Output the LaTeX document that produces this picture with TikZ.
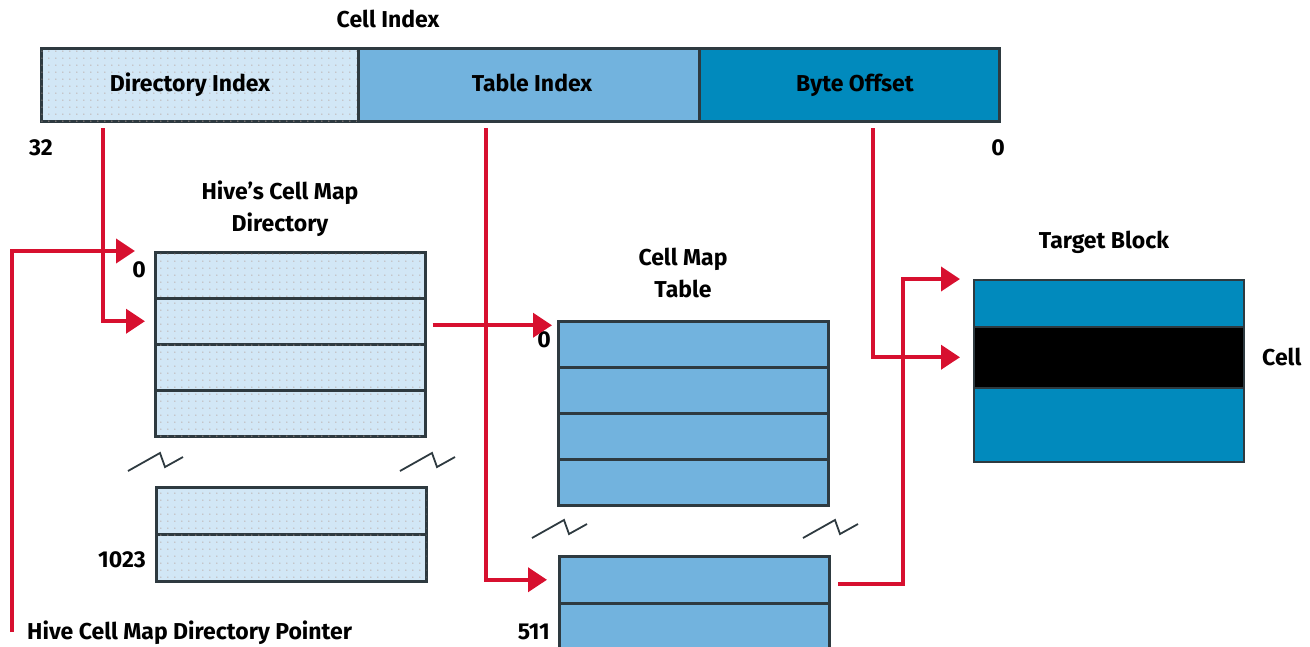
\documentclass[tikz,border=0pt]{standalone}
\usepackage{fontspec}
\setmainfont{Fira Sans}
\usetikzlibrary{arrows.meta,patterns.meta}
\definecolor{redc}{HTML}{D7102F}
\definecolor{lblue}{HTML}{D2E7F6}
\definecolor{mblue}{HTML}{72B3DE}
\definecolor{dblue}{HTML}{018ABD}
\definecolor{edge}{HTML}{2E3A40}
\definecolor{dotc}{HTML}{B8A49C}
\tikzdeclarepattern{name=sparsedots,type=uncolored,bottom left={(-1pt,-1pt)},top right={(6pt,6pt)},tile size={(7pt,7pt)},code={\fill (0,0) circle (0.75pt);}}
\tikzset{
  lbl/.style={font=\bfseries\fontsize{23}{32}\selectfont, inner sep=0pt, align=center},
  lbl1/.style={lbl, text height=16pt, text depth=5pt},
  boxrow/.style={draw=edge, line width=2.5pt, minimum width=270pt, inner sep=0pt, anchor=north west},
  dirrow/.style={boxrow, minimum height=46pt, fill=lblue, postaction={pattern=sparsedots, pattern color=dotc}},
  tabrow/.style={boxrow, minimum height=46pt, fill=mblue},
  blkrow/.style={draw=edge, line width=1.5pt, minimum width=270pt, inner sep=0pt, anchor=north west},
  barseg/.style={draw=edge, line width=2.5pt, minimum height=73pt, inner sep=0pt, anchor=north west},
  redarrow/.style={draw=redc, line width=4pt, -{Triangle[length=19pt,width=24pt]}},
  brk/.pic={\draw[edge, line width=1.8pt] (0,0) -- (32,-18) -- (37,-4) -- (55,-14);}
}
\begin{document}
\begin{tikzpicture}[x=1pt,y=-1pt]
\useasboundingbox (0,0) rectangle (1310,646);
\clip (0,0) rectangle (1310,646);
% top bar
\node[lbl1] (title) at (388,22) {Cell Index};
\node[barseg, minimum width=317pt, fill=lblue, postaction={pattern=sparsedots, pattern color=dotc}] (dirIdx) at (40,47) {};
\node[barseg, minimum width=341pt, fill=mblue] (tabIdx) at (357,47) {};
\node[barseg, minimum width=300pt, fill=dblue] (byteOff) at (698,47) {};
\node[lbl1] (tDir) at (190,86) {Directory Index};
\node[lbl1] (tTab) at (532,86) {Table Index};
\node[lbl1] (tByte) at (855,86) {Byte Offset};
\node[lbl1] (b32) at (41,150) {32};
\node[lbl1] (b0) at (998,150) {0};
% directory
\node[lbl] (dirTitle) at (280,209) {Hive’s Cell Map\\Directory};
\node[dirrow] (dir0) at (154,251) {};
\node[dirrow] (dir1) at (154,297) {};
\node[dirrow] (dir2) at (154,343) {};
\node[dirrow] (dir3) at (154,389) {};
\node[dirrow, minimum height=47pt] (dlo0) at (155,486) {};
\node[dirrow, minimum height=47pt] (dlo1) at (155,533) {};
\node[lbl1, anchor=east] (d0) at (146,272) {0};
\node[lbl1, anchor=east] (d1023) at (146,562) {1023};
\pic at (128,471) {brk};
\pic at (400,471) {brk};
% table
\node[lbl] (tabTitle) at (683,273) {Cell Map\\Table};
\node[tabrow] (tab0) at (557,320) {};
\node[tabrow] (tab1) at (557,366) {};
\node[tabrow] (tab2) at (557,412) {};
\node[tabrow] (tab3) at (557,458) {};
\node[tabrow, minimum height=47pt] (tlo0) at (558,555) {};
\node[tabrow, minimum height=60pt] (tlo1) at (558,602) {};
\node[lbl1, anchor=east] (t0) at (551,342) {0};
\node[lbl1, anchor=east] (t511) at (550,634) {511};
\pic at (532,538) {brk};
\pic at (803,538) {brk};
% target block
\node[lbl1] (tbTitle) at (1104,243) {Target Block};
\node[blkrow, fill=dblue, minimum height=47pt] (tbtop) at (973,279) {};
\node[blkrow, fill=black, minimum height=61pt] (cell) at (973,326) {};
\node[blkrow, fill=dblue, minimum height=74pt] (tbbot) at (973,387) {};
\node[lbl1, anchor=west] (cellLbl) at (1262,360) {Cell};
% pointer label
\node[lbl1, anchor=west] (ptr) at (27,634) {Hive Cell Map Directory Pointer};
% connectors
\coordinate (s1) at (103,128);
\coordinate (s2) at (486,128);
\coordinate (s3) at (873,128);
\coordinate (p0) at (12,632);
\coordinate (o1) at (838,584);
\coordinate (j) at (903,281);
\draw[redarrow, shorten >=19pt] (p0) |- (dir0.north west);
\draw[redarrow, shorten >=9pt] (s1) |- (dir1.west);
\draw[redarrow, shorten <=6pt, shorten >=5pt] ([yshift=-4pt]dir1.east) -- ([yshift=-4pt]dir1.east -| tab0.west);
\draw[redarrow, shorten >=11pt] (s2) |- (tlo0.west);
\draw[redarrow, shorten >=13pt] (s3) |- (cell.west);
\draw[redarrow, shorten >=13pt] (o1) -- (o1 -| j) |- (tbtop.north west);
\end{tikzpicture}
\end{document}
